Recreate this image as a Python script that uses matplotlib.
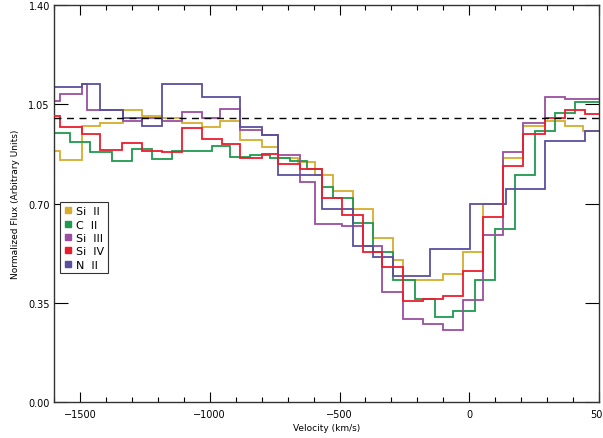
import numpy as np
import matplotlib
matplotlib.use("Agg")
import matplotlib.pyplot as plt
from matplotlib.ticker import MultipleLocator, NullLocator, FormatStrFormatter
from matplotlib.lines import Line2D

# velocity bin edges (km/s) and normalized flux per ion
si2_edges = [-1600, -1577, -1494, -1423, -1333, -1262, -1185, -1108, -1031, -960, -883, -800, -736, -660,
             -594, -524, -447, -370, -293, -254, -100, -23, 54, 131, 208, 292, 369, 439, 500]
si2_flux = [0.886, 0.855, 0.974, 0.984, 1.03, 1.01, 1.0, 0.985, 0.97, 0.99, 0.925, 0.90, 0.86, 0.845,
            0.80, 0.745, 0.68, 0.58, 0.50, 0.43, 0.45, 0.53, 0.70, 0.86, 0.975, 0.99, 0.975, 0.955]

c2_edges = [-1600, -1538, -1461, -1378, -1301, -1224, -1147, -1070, -992, -922, -845, -768, -690, -626,
            -569, -524, -447, -370, -293, -209, -132, -62, 22, 99, 176, 253, 330, 407, 500]
c2_flux = [0.95, 0.916, 0.88, 0.851, 0.892, 0.857, 0.886, 0.886, 0.904, 0.863, 0.87, 0.86, 0.85, 0.82,
           0.757, 0.72, 0.63, 0.53, 0.43, 0.363, 0.30, 0.32, 0.43, 0.61, 0.80, 0.957, 1.02, 1.057]

si3_edges = [-1600, -1577, -1494, -1474, -1333, -1262, -1185, -1108, -1031, -960, -883, -800, -736, -652,
             -594, -492, -408, -337, -254, -177, -100, -23, 54, 131, 208, 292, 369, 500]
si3_flux = [1.06, 1.085, 1.12, 1.03, 0.99, 1.00, 0.99, 1.024, 1.00, 1.033, 0.96, 0.94, 0.87, 0.775,
            0.628, 0.62, 0.55, 0.387, 0.293, 0.275, 0.255, 0.36, 0.59, 0.88, 0.985, 1.074, 1.068]

si4_edges = [-1600, -1577, -1494, -1423, -1339, -1262, -1185, -1108, -1031, -954, -883, -800, -736, -652,
             -569, -492, -408, -337, -254, -177, -100, -23, 54, 131, 208, 292, 369, 446, 500]
si4_flux = [1.01, 0.97, 0.945, 0.89, 0.915, 0.886, 0.883, 0.965, 0.927, 0.91, 0.86, 0.875, 0.84, 0.82,
            0.72, 0.66, 0.53, 0.475, 0.357, 0.365, 0.375, 0.463, 0.651, 0.833, 0.945, 1.0, 1.03, 1.016]

n2_edges = [-1600, -1494, -1423, -1333, -1262, -1185, -1031, -883, -800, -736, -569, -447, -370, -293,
            -151, 3, 140, 292, 446, 500]
n2_flux = [1.11, 1.12, 1.03, 1.00, 0.975, 1.12, 1.074, 0.97, 0.94, 0.80, 0.68, 0.55, 0.51, 0.445,
           0.54, 0.70, 0.75, 0.92, 0.957]

labels = ["Si  II", "C  II", "Si  III", "Si  IV", "N  II"]
colors = ["#d6ad2c", "#1f9a4e", "#9a4fa0", "#ec1c2e", "#5a4f9e"]

fig = plt.figure(figsize=(6.03, 4.39), dpi=100)
ax = fig.add_axes([0.0896, 0.082, 0.9038, 0.9043])

series = [(si2_edges, si2_flux), (c2_edges, c2_flux), (si3_edges, si3_flux),
          (si4_edges, si4_flux), (n2_edges, n2_flux)]
zo = [2, 2, 2, 3, 2]
for (e, f), c, z in zip(series, colors, zo):
    ax.stairs(f, e, baseline=None, color=c, lw=1.3, zorder=z)

ax.axhline(1.0, color="black", lw=1.0, ls=(0, (5, 4)), zorder=4)

ax.set_xlim(-1600, 500)
ax.set_ylim(0, 1.40)
ax.xaxis.set_major_locator(MultipleLocator(500))
ax.xaxis.set_minor_locator(MultipleLocator(100))
ax.yaxis.set_major_locator(MultipleLocator(0.35))
ax.yaxis.set_minor_locator(NullLocator())
ax.yaxis.set_major_formatter(FormatStrFormatter("%.2f"))
ax.tick_params(which="both", direction="in", top=True, right=True, labelsize=7, width=0.8)
ax.tick_params(axis="x", which="major", length=7, pad=5)
ax.tick_params(axis="x", which="minor", length=3.5)
ax.tick_params(axis="y", which="major", length=10, pad=3)
for s in ax.spines.values():
    s.set_linewidth(1.0)
    s.set_color("#333333")

ax.set_xlabel("Velocity (km/s)", fontsize=6.5, labelpad=3)
ax.set_ylabel("Normalized Flux (Arbitrary Units)", fontsize=6.5, labelpad=6)

handles = [Line2D([], [], ls="none", marker="s", ms=4.5, color=c) for c in colors]
leg = ax.legend(handles, labels, loc="upper left", bbox_to_anchor=(0.011, 0.503), fontsize=8,
                frameon=True, fancybox=False, edgecolor="#333333", framealpha=1,
                handlelength=0.8, handletextpad=0.3, labelspacing=0.3, borderpad=0.35,
                borderaxespad=0)
leg.get_frame().set_linewidth(0.8)

plt.savefig("out.png", dpi=100)
